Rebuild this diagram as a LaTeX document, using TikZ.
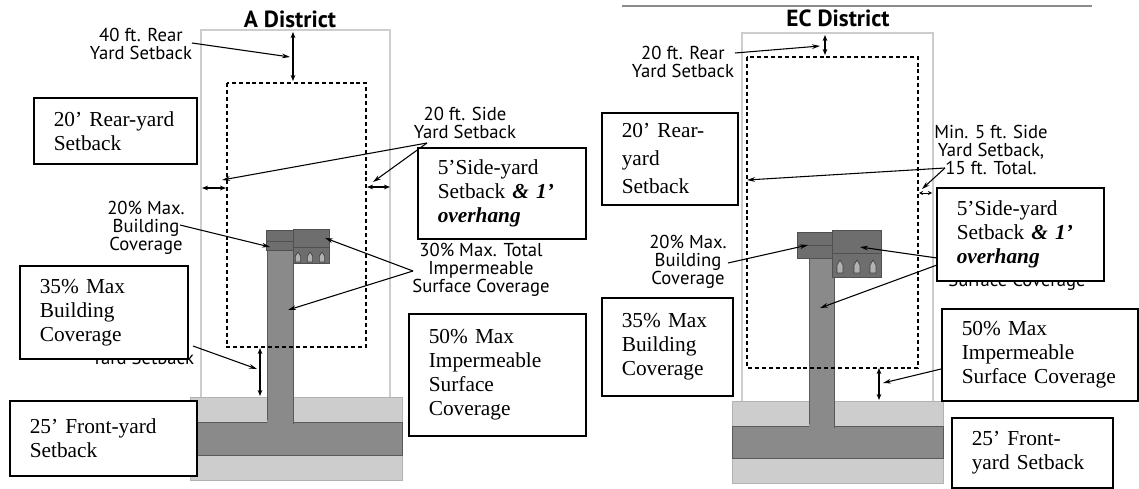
\documentclass[tikz,border=0pt]{standalone}
\usepackage{fontspec}
\setmainfont{Liberation Serif}
\newfontfamily\labelfont{PT Sans}
\usetikzlibrary{arrows.meta}
\definecolor{lotgray}{HTML}{CDCDCD}
\definecolor{streetlight}{HTML}{CDCDCD}
\definecolor{streetdark}{HTML}{8A8A8A}
\definecolor{bldg}{HTML}{6E6E6E}
\definecolor{bldgedge}{HTML}{505050}
\definecolor{rulegray}{HTML}{8C8C8C}
\tikzset{
  box/.style={draw=black, line width=1.2pt, fill=white, align=left, inner xsep=15pt, inner ysep=0pt,
    font=\fontsize{16}{18}\selectfont, anchor=north west},
  lab/.style={align=center, font=\labelfont\fontsize{14}{13.5}\selectfont, inner sep=0pt},
  ttl/.style={font=\labelfont\bfseries\fontsize{17.5}{18}\selectfont, inner sep=0pt},
  ptr/.style={draw=black, line width=0.8pt, -{Stealth[length=6pt,width=3.5pt]}},
  dimarrow/.style={draw=black, line width=0.8pt, {Stealth[length=4.5pt,width=3.5pt]}-{Stealth[length=4.5pt,width=3.5pt]}},
  tinydim/.style={draw=black, line width=0.7pt, {Stealth[length=3pt,width=3pt]}-{Stealth[length=3pt,width=3pt]}},
  lotline/.style={draw=lotgray, line width=0.9pt},
  setline/.style={draw=black, line width=1.1pt, dash pattern=on 3pt off 2.2pt},
  streetpart/.style={fill=streetlight, draw=gray!60, line width=0.5pt},
  darkpart/.style={fill=streetdark, draw=gray!70!black, line width=0.4pt},
  bldgpart/.style={fill=bldg, draw=bldgedge, line width=0.6pt},
  doorshape/.style={fill=gray!60, draw=black!75, line width=0.5pt},
}
\begin{document}
\begin{tikzpicture}[x=0.75pt,y=-0.75pt]
\useasboundingbox (0,0) rectangle (1139,489);
\fill[white] (0,0) rectangle (1139,489);

% ================= A DISTRICT =================
% street
\path[streetpart] (190,397) rectangle (402,480);
\path[darkpart] (190,422) rectangle (402,455);
% driveway
\path[darkpart] (267,250) rectangle (293,423);
\fill[streetdark] (267.4,420) rectangle (292.6,424);
% lot and setback lines
\path[lotline] (201,397) -- (201,30) -- (390,30) -- (390,397);
\path[setline] (227,83) rectangle (366,347);
% building
\path[bldgpart] (266,230) rectangle (293,250);
\draw[bldgedge, line width=0.6pt] (266,241) -- (293,241);
\path[bldgpart] (293,229) rectangle (329,263);
\draw[bldgedge, line width=0.6pt] (293,247) -- (329,247);
\foreach \dx in {298,310,322}{
  \path[doorshape] (\dx-2.6,262) -- (\dx-2.6,256) -- (\dx,252) -- (\dx+2.6,256) -- (\dx+2.6,262) -- cycle;
}
% coordinates
\coordinate (rA1) at (293,32);  \coordinate (rA2) at (293,81);
\coordinate (pA40s) at (192,43); \coordinate (pA40e) at (290,57);
\coordinate (sAL1) at (202,188); \coordinate (sAL2) at (226,188);
\coordinate (sAR1) at (367,187); \coordinate (sAR2) at (390,187);
\coordinate (pAss) at (427,143); \coordinate (pAsL) at (222,180); \coordinate (pAsR) at (373,182);
\coordinate (pAbs) at (180,225); \coordinate (pAbe) at (270,247);
\coordinate (pAis) at (413,271); \coordinate (pAi1) at (325,238); \coordinate (pAi2) at (288,310);
\coordinate (pAfs) at (193,346); \coordinate (pAfe) at (257,369);
\coordinate (fA1) at (260,348); \coordinate (fA2) at (260,396);
% dimensions and pointers
\draw[dimarrow] (rA1) -- (rA2);
\draw[dimarrow] (sAL1) -- (sAL2);
\draw[dimarrow] (sAR1) -- (sAR2);
\draw[dimarrow] (fA1) -- (fA2);
\draw[ptr] (pA40s) -- (pA40e);
\draw[ptr] (pAss) -- (pAsL);
\draw[ptr] (pAss) -- (pAsR);
\draw[ptr] (pAbs) -- (pAbe);
\draw[ptr] (pAis) -- (pAi1);
\draw[ptr] (pAis) -- (pAi2);
\draw[ptr] (pAfs) -- (pAfe);
% labels
\node[ttl] (tA) at (290,19) {A District};
\node[lab] (l40) at (141,43.5) {40 ft. Rear\\Yard Setback};
\node[lab] (l20s) at (465,122.5) {20 ft. Side\\Yard Setback};
\node[lab] (l20b) at (146,227.5) {20\% Max.\\Building\\Coverage};
\node[lab] (l30) at (481,270) {30\% Max. Total\\Impermeable\\Surface Coverage};
\node[lab, anchor=base] (lfy) at (143,364) {Yard Setback};
% boxes
\node[box, text width=92.25pt, minimum height=49.5pt] (bA20) at (33,97) {20’ Rear-yard\\Setback};
\node[box, text width=96pt, minimum height=68.25pt] (bA5) at (417,147) {5’Side-yard\\Setback \textbf{\textit{\& 1’}}\\\textbf{\textit{overhang}}};
\node[box, text width=96pt, minimum height=69.75pt] (bA35) at (19,265) {35\% Max\\Building\\Coverage};
\node[box, text width=102.75pt, minimum height=91.5pt] (bA50) at (408,313) {50\% Max\\Impermeable\\Surface\\Coverage};
\node[box, text width=110.25pt, minimum height=56.25pt] (bA25) at (9,400) {25’ Front-yard\\Setback};

% ================= EC DISTRICT =================
\coordinate (rulea) at (622,6); \coordinate (ruleb) at (1092,6);
\draw[rulegray, line width=0.9pt] (rulea) -- (ruleb);
% street
\path[streetpart] (732,401) rectangle (943,483);
\path[darkpart] (732,426) rectangle (943,458);
\path[darkpart] (809,258) rectangle (834,427);
\fill[streetdark] (809.4,424) rectangle (833.6,428);
% lot and setback lines
\path[lotline] (742,401) -- (742,33) -- (933,33) -- (933,401);
\path[setline] (747,57) rectangle (918,368);
% building
\path[bldgpart] (797,232) rectangle (832,258);
\draw[bldgedge, line width=0.6pt] (797,245) -- (832,245);
\path[bldgpart] (832,230) rectangle (881,277);
\draw[bldgedge, line width=0.6pt] (832,253) -- (881,253);
\foreach \dx in {840,857,873}{
  \path[doorshape] (\dx-3,273) -- (\dx-3,265) -- (\dx,260) -- (\dx+3,265) -- (\dx+3,273) -- cycle;
}
% coordinates
\coordinate (rE1) at (825,35); \coordinate (rE2) at (825,55);
\coordinate (pErs) at (735,53); \coordinate (pEre) at (820,46);
\coordinate (pEss) at (945,168); \coordinate (pEsL) at (747,180); \coordinate (pEsR) at (922,189);
\coordinate (sE1) at (919,193); \coordinate (sE2) at (932,193);
\coordinate (pEbs) at (728,263); \coordinate (pEbe) at (808,245);
\coordinate (pEi1s) at (937,258); \coordinate (pEi1e) at (860,247);
\coordinate (pEi2s) at (937,265); \coordinate (pEi2e) at (820,308);
\coordinate (pEfs) at (941,369); \coordinate (pEfe) at (883,383);
\coordinate (fE1) at (879,368); \coordinate (fE2) at (879,400);
% dimensions and pointers
\draw[dimarrow] (rE1) -- (rE2);
\draw[tinydim] (sE1) -- (sE2);
\draw[dimarrow] (fE1) -- (fE2);
\draw[ptr] (pErs) -- (pEre);
\draw[ptr] (pEss) -- (pEsL);
\draw[ptr] (pEss) -- (pEsR);
\draw[ptr] (pEbs) -- (pEbe);
\draw[ptr] (pEi1s) -- (pEi1e);
\draw[ptr] (pEi2s) -- (pEi2e);
\draw[ptr] (pEfs) -- (pEfe);
% labels
\node[ttl] (tE) at (838,18) {EC District};
\node[lab] (e20) at (683,62) {20 ft. Rear\\Yard Setback};
\node[lab] (emin) at (991,150) {Min. 5 ft. Side\\Yard Setback,\\15 ft. Total.};
\node[lab] (e20b) at (688,262) {20\% Max.\\Building\\Coverage};
\node[lab, anchor=base] (esc) at (1017,286) {Surface Coverage};
% boxes
\node[box, text width=72pt, minimum height=69pt, font=\fontsize{16}{21}\selectfont] (bE20) at (601,112) {20’ Rear-\\yard\\Setback};
\node[box, text width=68.25pt, minimum height=73.5pt] (bE35) at (601,297) {35\% Max\\Building\\Coverage};
\node[box, text width=95.25pt, minimum height=69.75pt] (bE5) at (936,187) {5’Side-yard\\Setback \textbf{\textit{\& 1’}}\\\textbf{\textit{overhang}}};
\node[box, text width=117pt, minimum height=69pt] (bE50) at (941,308) {50\% Max\\Impermeable\\Surface Coverage};
\node[box, text width=90.75pt, minimum height=52.5pt] (bE25) at (951,417) {25’ Front-\\yard Setback};
\end{tikzpicture}
\end{document}
